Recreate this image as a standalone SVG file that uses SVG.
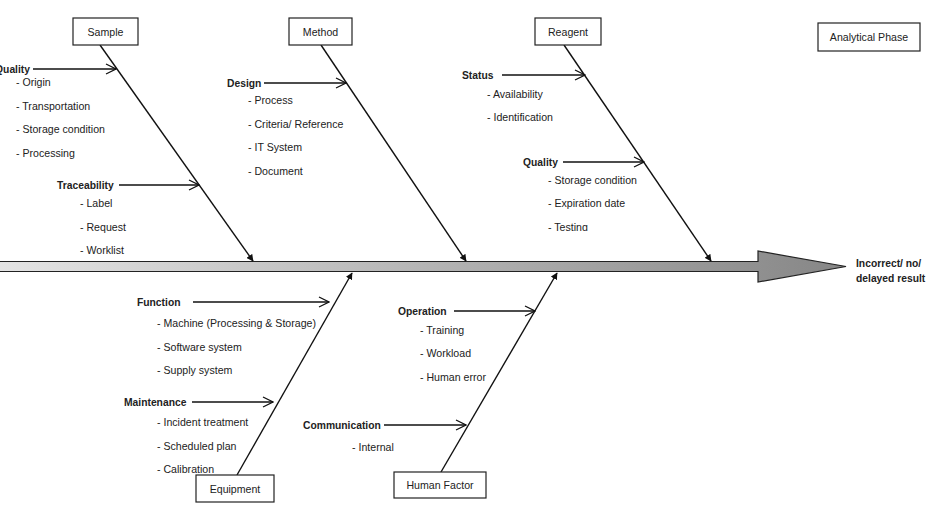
<svg xmlns="http://www.w3.org/2000/svg" width="947" height="525" viewBox="0 0 947 525">
<defs>
<style>
text{font-family:"Liberation Sans",Arial,sans-serif;font-size:10.6px;fill:#222}
.b{font-weight:bold;font-size:10.3px}
.box{fill:#fff;stroke:#222;stroke-width:1.2}
.bt{text-anchor:middle}
.bone{stroke:#111;stroke-width:1.4;fill:none;marker-end:url(#fill)}
.sub{stroke:#111;stroke-width:1.4;fill:none;marker-end:url(#open)}
</style>
<marker id="fill" viewBox="0 0 10 10" refX="9" refY="5" markerWidth="7" markerHeight="7" markerUnits="userSpaceOnUse" orient="auto">
<path d="M0,0 L10,5 L0,10 Z" fill="#111"/>
</marker>
<marker id="open" viewBox="0 0 12 12" refX="11" refY="6" markerWidth="12" markerHeight="12" markerUnits="userSpaceOnUse" orient="auto">
<path d="M1,1 L11,6 L1,11" fill="none" stroke="#111" stroke-width="1.3"/>
</marker>
<linearGradient id="g" gradientUnits="userSpaceOnUse" x1="0" y1="0" x2="846" y2="0">
<stop offset="0" stop-color="#e4e4e4"/>
<stop offset="1" stop-color="#868686"/>
</linearGradient>
<clipPath id="clipT"><rect x="0" y="0" width="947" height="231"/></clipPath>
</defs>

<g id="spine">
<path d="M-2,261.5 L758,261.5 L758,251 L846,266.5 L758,282 L758,271.5 L-2,271.5 Z" fill="url(#g)" stroke="#222" stroke-width="1.2"/>
<text class="b" x="856" y="267">Incorrect/ no/</text>
<text class="b" x="856" y="282">delayed result</text>
</g>

<g id="connectors">
<line class="bone" x1="100" y1="45" x2="253" y2="261"/>
<line class="bone" x1="321" y1="45" x2="466" y2="261"/>
<line class="bone" x1="564" y1="45" x2="711" y2="261"/>
<line class="bone" x1="237" y1="475" x2="352" y2="273"/>
<line class="bone" x1="441" y1="472" x2="557" y2="273"/>
<line class="sub" x1="33" y1="69" x2="116" y2="69"/>
<line class="sub" x1="119" y1="185" x2="199" y2="185"/>
<line class="sub" x1="264" y1="83" x2="346" y2="83"/>
<line class="sub" x1="502" y1="75" x2="585" y2="75"/>
<line class="sub" x1="563" y1="162" x2="644" y2="162"/>
<line class="sub" x1="193" y1="302" x2="329" y2="302"/>
<line class="sub" x1="192" y1="402" x2="273" y2="402"/>
<line class="sub" x1="454" y1="311" x2="535" y2="311"/>
<line class="sub" x1="384" y1="425" x2="466" y2="425"/>
</g>

<g id="sample">
<rect class="box" x="73" y="18" width="65" height="27"/>
<text class="bt" x="105.5" y="35.5">Sample</text>
<text class="b" x="30" y="72.5" text-anchor="end">Quality</text>
<text x="16" y="86">- Origin</text>
<text x="16" y="110">- Transportation</text>
<text x="16" y="133">- Storage condition</text>
<text x="16" y="157">- Processing</text>
<text class="b" x="57" y="188.5">Traceability</text>
<text x="80" y="207">- Label</text>
<text x="80" y="231">- Request</text>
<text x="80" y="254">- Worklist</text>
</g>

<g id="method">
<rect class="box" x="289" y="18" width="63" height="27"/>
<text class="bt" x="320.5" y="35.5">Method</text>
<text class="b" x="227" y="86.5">Design</text>
<text x="248" y="104">- Process</text>
<text x="248" y="128">- Criteria/ Reference</text>
<text x="248" y="151">- IT System</text>
<text x="248" y="175">- Document</text>
</g>

<g id="reagent">
<rect class="box" x="535" y="18" width="66" height="27"/>
<text class="bt" x="568" y="35.5">Reagent</text>
<text class="b" x="462" y="79">Status</text>
<text x="487" y="98">- Availability</text>
<text x="487" y="121">- Identification</text>
<text class="b" x="523" y="166">Quality</text>
<text x="548" y="184">- Storage condition</text>
<text x="548" y="207">- Expiration date</text>
<text x="548" y="230.5" clip-path="url(#clipT)">- Testing</text>
</g>

<g id="analytical-phase">
<rect class="box" x="818" y="23" width="102" height="28"/>
<text class="bt" x="869" y="40.5">Analytical Phase</text>
</g>

<g id="equipment">
<rect class="box" x="196" y="475" width="78" height="27"/>
<text class="bt" x="235" y="492.5">Equipment</text>
<text class="b" x="137" y="306">Function</text>
<text x="157" y="327">- Machine (Processing &amp; Storage)</text>
<text x="157" y="351">- Software system</text>
<text x="157" y="374">- Supply system</text>
<text class="b" x="124" y="405.5">Maintenance</text>
<text x="157" y="426">- Incident treatment</text>
<text x="157" y="450">- Scheduled plan</text>
<text x="157" y="473">- Calibration</text>
</g>

<g id="human-factor">
<rect class="box" x="394" y="472" width="92" height="26"/>
<text class="bt" x="440" y="489">Human Factor</text>
<text class="b" x="398" y="314.5">Operation</text>
<text x="420" y="334">- Training</text>
<text x="420" y="357">- Workload</text>
<text x="420" y="381">- Human error</text>
<text class="b" x="303" y="429">Communication</text>
<text x="352" y="451">- Internal</text>
</g>
</svg>
